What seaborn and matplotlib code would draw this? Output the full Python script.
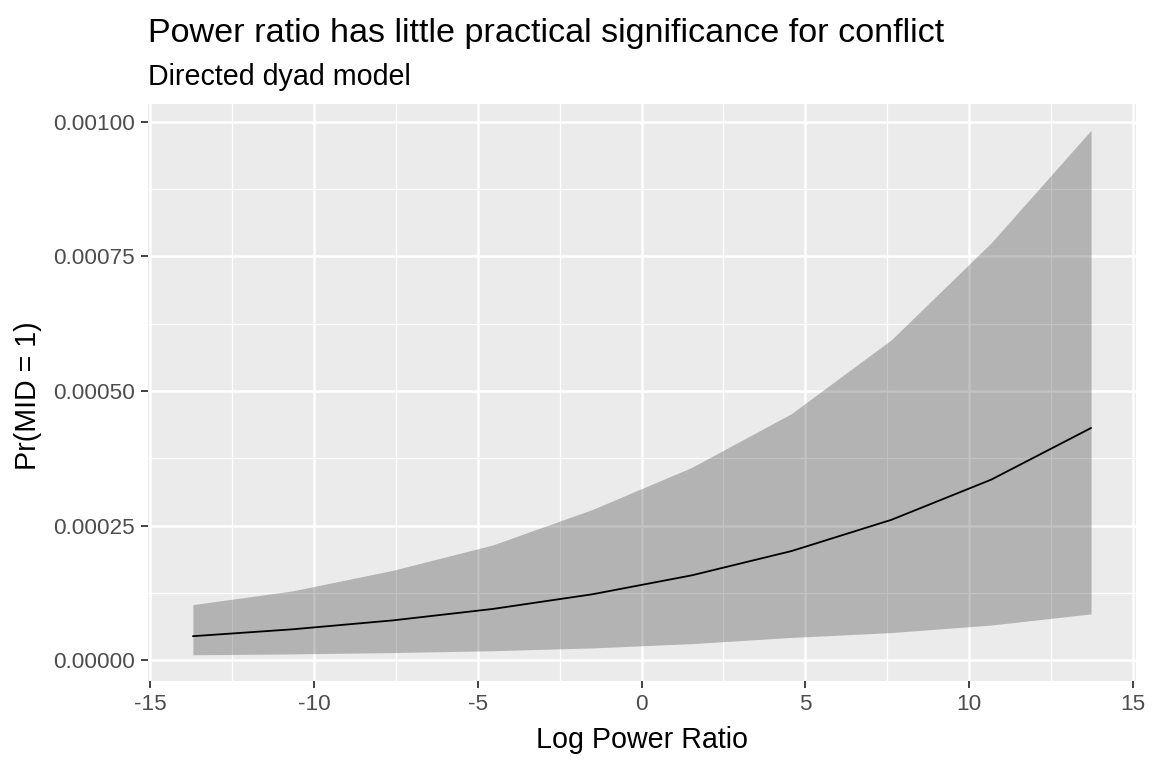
#!/usr/bin/python3
# Predicted probability of a MID across the log power ratio (directed dyads)

import numpy as np
import pandas as pd
import matplotlib
matplotlib.use("Agg")
import matplotlib.pyplot as plt
from matplotlib.ticker import FixedLocator
import seaborn as sns

# Values
log_power_ratio = [-13.70, -10.65, -7.60, -4.55, -1.50, 1.53, 4.58, 7.63, 10.68, 13.73]
pr_mid = [0.0000448, 0.0000576, 0.0000741, 0.0000953, 0.0001226,
          0.0001577, 0.0002028, 0.0002608, 0.0003354, 0.0004313]
pr_low = [0.0000103, 0.0000119, 0.0000144, 0.0000178, 0.0000230,
          0.0000310, 0.0000425, 0.0000515, 0.0000655, 0.0000862]
pr_high = [0.0001034, 0.0001290, 0.0001670, 0.0002140, 0.0002800,
           0.0003580, 0.0004580, 0.0005950, 0.0007750, 0.0009840]

x_ticks = [-15, -10, -5, 0, 5, 10, 15]
x_tick_labels = ["-15", "-10", "-5", "0", "5", "10", "15"]
y_ticks = [0.0, 0.00025, 0.0005, 0.00075, 0.001]
y_tick_labels = ["0.00000", "0.00025", "0.00050", "0.00075", "0.00100"]

preds = pd.DataFrame({"ratio": log_power_ratio, "fit": pr_mid,
                      "lower": pr_low, "upper": pr_high})

# ggplot-like grey theme
sns.set_theme(style="darkgrid", rc={
    "axes.facecolor": "#EBEBEB",
    "grid.color": "white",
    "axes.edgecolor": "#EBEBEB",
    "axes.unicode_minus": False,
})
plt.rcParams["font.family"] = ["Liberation Sans", "DejaVu Sans"]

W, H = 1152, 768
fig, ax = plt.subplots(figsize=(W / 100, H / 100), dpi=100)
fig.subplots_adjust(left=148 / W, right=1136 / W, bottom=1 - 681 / H, top=1 - 104 / H)

ax.fill_between(preds["ratio"], preds["lower"], preds["upper"],
                color="#333333", alpha=0.3, linewidth=0, zorder=2)
sns.lineplot(data=preds, x="ratio", y="fit", color="black", linewidth=1.3,
             ax=ax, zorder=3)
ax.margins(x=0.05, y=0.05)

# major + minor grid
ax.xaxis.set_major_locator(FixedLocator(x_ticks))
ax.set_xticklabels(x_tick_labels)
ax.yaxis.set_major_locator(FixedLocator(y_ticks))
ax.set_yticklabels(y_tick_labels)
ax.xaxis.set_minor_locator(FixedLocator([-12.5, -7.5, -2.5, 2.5, 7.5, 12.5]))
ax.yaxis.set_minor_locator(FixedLocator([0.000125, 0.000375, 0.000625, 0.000875]))
ax.grid(which="major", color="white", linewidth=1.8)
ax.grid(which="minor", color="white", linewidth=0.9)
ax.set_axisbelow(True)
for s in ax.spines.values():
    s.set_visible(False)

ax.tick_params(axis="both", which="major", length=5.3, width=1.3, color="#333333",
               labelsize=16.2, labelcolor="#4D4D4D", pad=4.2, bottom=True, left=True)
ax.tick_params(axis="both", which="minor", length=0)

ax.set_xlabel("Log Power Ratio", fontsize=20.6, color="black")
ax.set_ylabel("Pr(MID = 1)", fontsize=20.6, color="black")
ax.xaxis.label.set_va("baseline")
ax.xaxis.set_label_coords(642 / W, 1 - 748 / H, transform=fig.transFigure)
ax.yaxis.label.set_va("baseline")
ax.yaxis.set_label_coords(36.5 / W, 1 - 396 / H, transform=fig.transFigure)

fig.text(148 / W, 1 - 42 / H, "Power ratio has little practical significance for conflict",
         fontsize=24.6, ha="left", va="baseline", color="black")
fig.text(148 / W, 1 - 85 / H, "Directed dyad model",
         fontsize=20.6, ha="left", va="baseline", color="black")

fig.savefig("out.png", dpi=100)
